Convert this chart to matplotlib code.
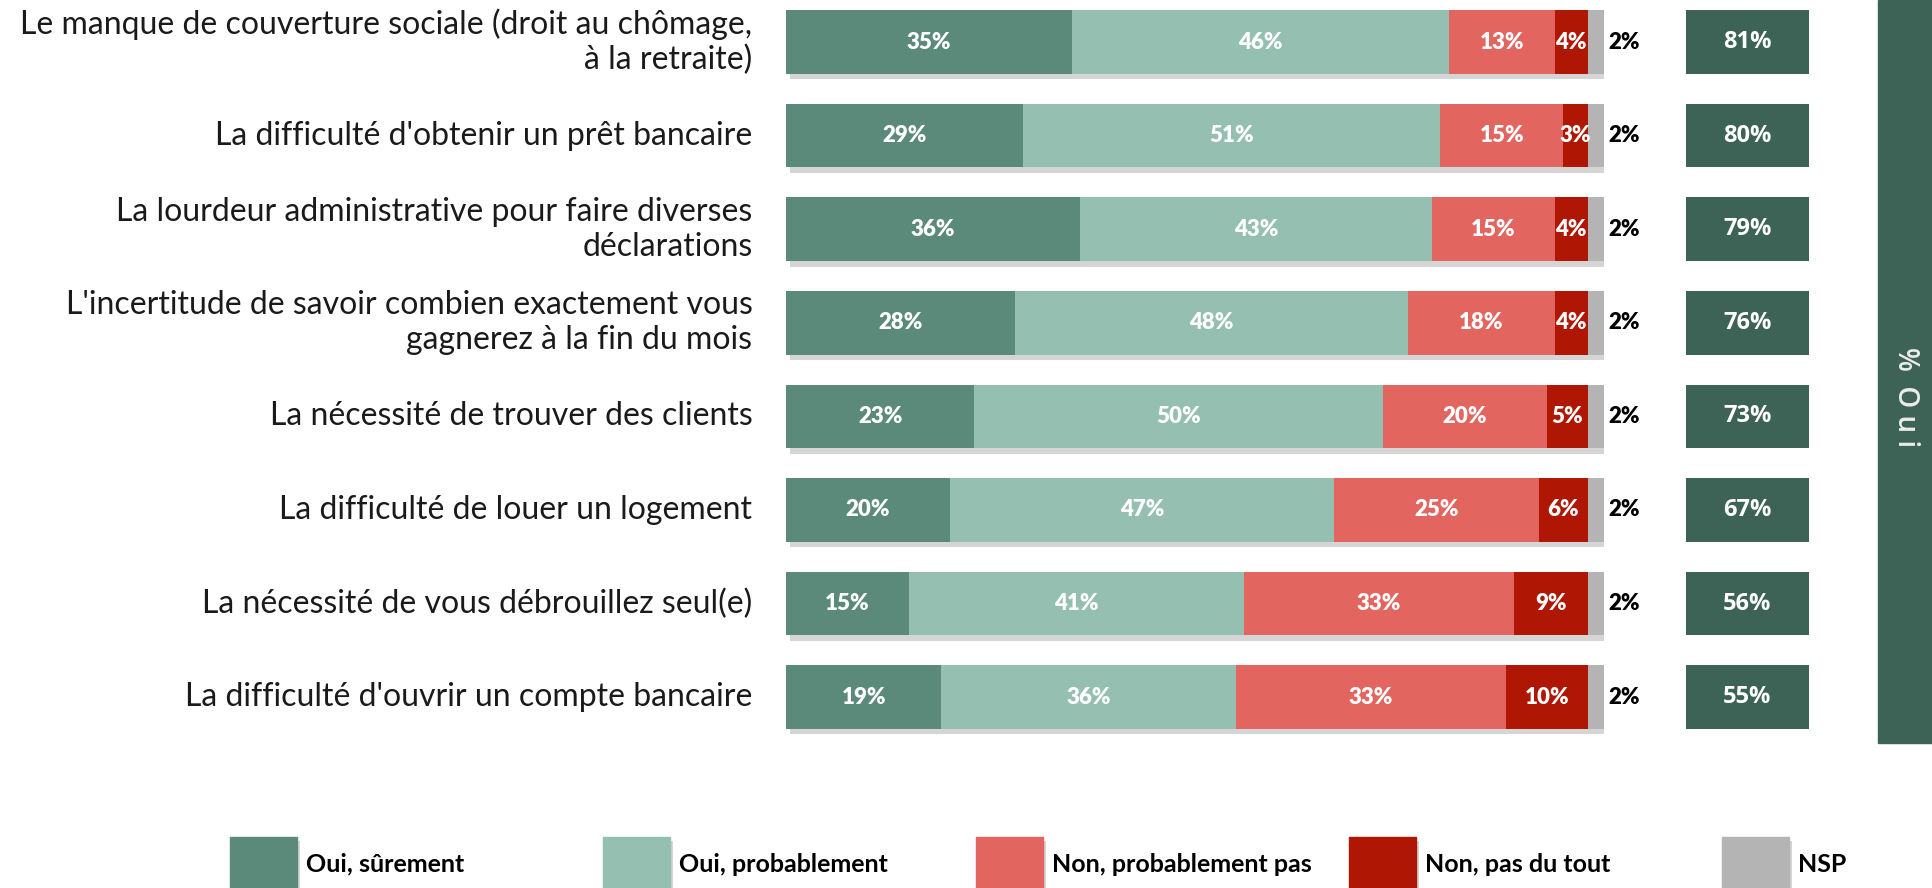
import matplotlib.pyplot as plt
import matplotlib.patheffects as pe
from matplotlib.patches import Rectangle

plt.rcParams['font.family'] = ['Lato', 'DejaVu Sans']

items = [
    "Le manque de couverture sociale (droit au chômage,\nà la retraite)",
    "La difficulté d'obtenir un prêt bancaire",
    "La lourdeur administrative pour faire diverses\ndéclarations",
    "L'incertitude de savoir combien exactement vous\ngagnerez à la fin du mois",
    "La nécessité de trouver des clients",
    "La difficulté de louer un logement",
    "La nécessité de vous débrouillez seul(e)",
    "La difficulté d'ouvrir un compte bancaire",
]
oui_surement = [35, 29, 36, 28, 23, 20, 15, 19]
oui_probablement = [46, 51, 43, 48, 50, 47, 41, 36]
non_probablement = [13, 15, 15, 18, 20, 25, 33, 33]
non_pas_du_tout = [4, 3, 4, 4, 5, 6, 9, 10]
nsp = [2, 2, 2, 2, 2, 2, 2, 2]
total_oui = [81, 80, 79, 76, 73, 67, 56, 55]

series_names = ["Oui, sûrement", "Oui, probablement", "Non, probablement pas",
                "Non, pas du tout", "NSP"]
series = [oui_surement, oui_probablement, non_probablement, non_pas_du_tout, nsp]
colors = ["#5B8A7A", "#95C0B1", "#E26560", "#AF1604", "#B4B4B4"]
box_color = "#3D6357"

W, H = 1932, 888
fig = plt.figure(figsize=(W / 100, H / 100), dpi=100)
ax = fig.add_axes([786 / W, 0, 818 / W, 1])
ax.set_xlim(0, 100)
ax.set_ylim(9.04, -0.449)
ax.axis('off')

ypos = list(range(len(items)))
bh = 0.68
shadow = [pe.SimplePatchShadow(offset=(3, -4), shadow_rgbFace='#888888', alpha=0.35), pe.Normal()]

# background bar carrying the drop shadow
totals = [sum(v) for v in zip(*series)]
bg = ax.barh(ypos, totals, height=bh, color='white', zorder=1)
for p in bg:
    p.set_path_effects(shadow)

left = [0] * len(items)
for k, (vals, col) in enumerate(zip(series, colors)):
    ax.barh(ypos, vals, left=left, height=bh, color=col, zorder=2)
    for i, v in enumerate(vals):
        if k < 4:
            ax.text(left[i] + v / 2, i, f"{v}%", ha='center', va='center',
                    color='white', fontsize=16, fontweight='heavy', zorder=3)
        else:
            ax.text(left[i] + v + 0.5, i, f"{v}%", ha='left', va='center',
                    color='black', fontsize=16, fontweight='heavy', zorder=3)
    left = [a + b for a, b in zip(left, vals)]

# item labels
for i, lab in enumerate(items):
    ax.text(-4.1, i, lab, ha='right', va='center', fontsize=23,
            color='#1a1a1a', linespacing=1.2)

# total "oui" boxes
ax.barh(ypos, [15] * len(items), left=110, height=bh, color=box_color,
        clip_on=False)
for i, t in enumerate(total_oui):
    ax.text(117.5, i, f"{t}%", ha='center', va='center', color='white',
            fontsize=17, fontweight='bold', family='Open Sans')

# vertical "% Oui" band
fig.patches.append(Rectangle((1878 / W, (H - 743) / H), 54 / W, 743 / H,
                             transform=fig.transFigure, color=box_color))
fig.text(1905 / W, 1 - 397 / H, "%  O u i", rotation=270, ha='center',
         va='center', color='#ececec', fontsize=20, fontweight='semibold',
         family='Open Sans')

# legend
for k, (name, col) in enumerate(zip(series_names, colors)):
    x0 = 230 + k * 373
    r = Rectangle((x0 / W, 0), 67 / W, (H - 837) / H, transform=fig.transFigure,
                  color=col)
    r.set_path_effects([pe.SimplePatchShadow(offset=(2, -3), shadow_rgbFace='#888888',
                                             alpha=0.35), pe.Normal()])
    fig.patches.append(r)
    fig.text((x0 + 76) / W, 1 - 864 / H, name, ha='left', va='center',
             fontsize=18, fontweight='bold', color='black')

fig.savefig('out.png', dpi=100)
